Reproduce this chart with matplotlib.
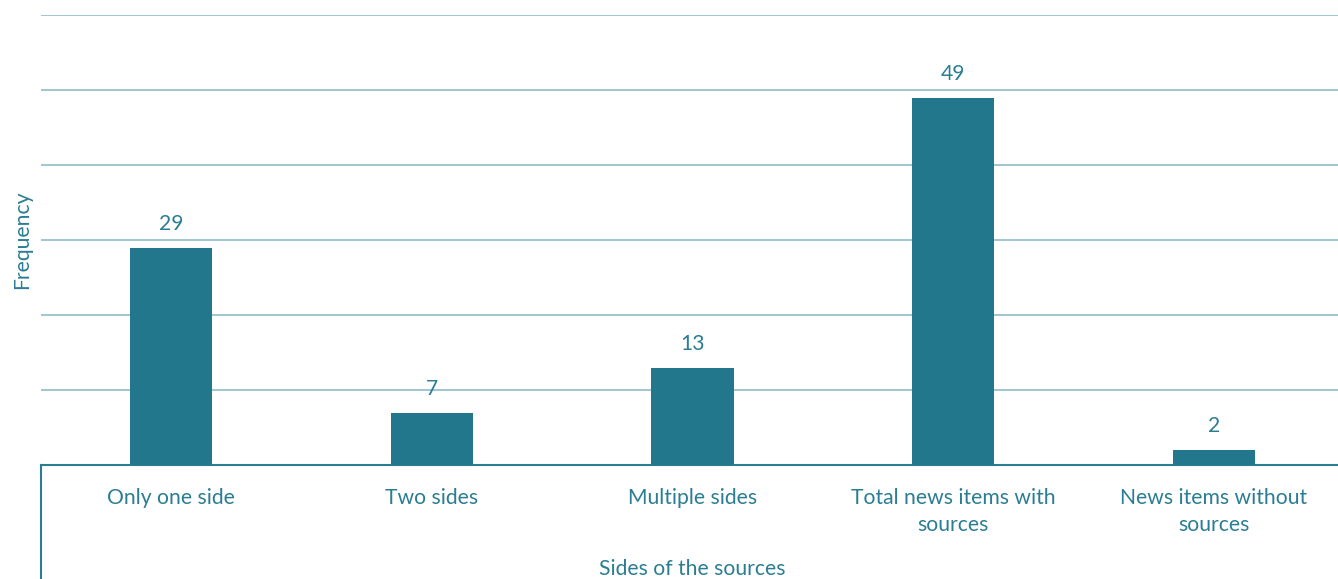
import matplotlib.pyplot as plt
from matplotlib.lines import Line2D

# Data
categories = ["Only one side", "Two sides", "Multiple sides",
              "Total news items with\nsources", "News items without\nsources"]
frequency = [29, 7, 13, 49, 2]

bar_color = "#23778d"
text_color = "#2a7d93"
grid_color = "#8fbcc7"

plt.rcParams['font.family'] = ['Lato', 'DejaVu Sans']
fs = 15.2

fig = plt.figure(figsize=(13.38, 5.79), dpi=100)
ax = fig.add_axes([41 / 1338, 1 - 465 / 579, (1344 - 41) / 1338, (465 - 15) / 579])

x = range(len(categories))
bars = ax.bar(x, frequency, width=0.315, color=bar_color, zorder=3)

ax.set_xlim(-0.5, len(categories) - 0.5)
ax.set_ylim(0, 60)
ax.set_yticks(range(0, 61, 10))
ax.yaxis.grid(True, color=grid_color, linewidth=1.2, zorder=0)
ax.tick_params(axis='y', left=False, labelleft=False)
ax.tick_params(axis='x', bottom=False, colors=text_color, labelsize=fs, pad=13)
ax.set_xticks(list(x))
ax.set_xticklabels(categories, color=text_color, linespacing=1.45)

for s in ["top", "right", "left"]:
    ax.spines[s].set_visible(False)
ax.spines["bottom"].set_color(text_color)
ax.spines["bottom"].set_linewidth(1.5)

# vertical line below the baseline on the left
ax.add_line(Line2D([0, 0], [0, -0.4], transform=ax.transAxes, color=text_color,
                   linewidth=1.5, clip_on=False))

for b, v in zip(bars, frequency):
    ax.annotate(str(v), (b.get_x() + b.get_width() / 2, v), xytext=(0, 10),
                textcoords="offset points", ha="center", va="bottom",
                color=text_color, fontsize=fs)

fig.text(22 / 1338, 1 - 240 / 579, "Frequency", rotation=90, ha="center", va="center",
         color=text_color, fontsize=fs)
fig.text(692 / 1338, 1 - 569 / 579, "Sides of the sources", ha="center", va="center",
         color=text_color, fontsize=fs)

fig.savefig("out.png", dpi=100)
